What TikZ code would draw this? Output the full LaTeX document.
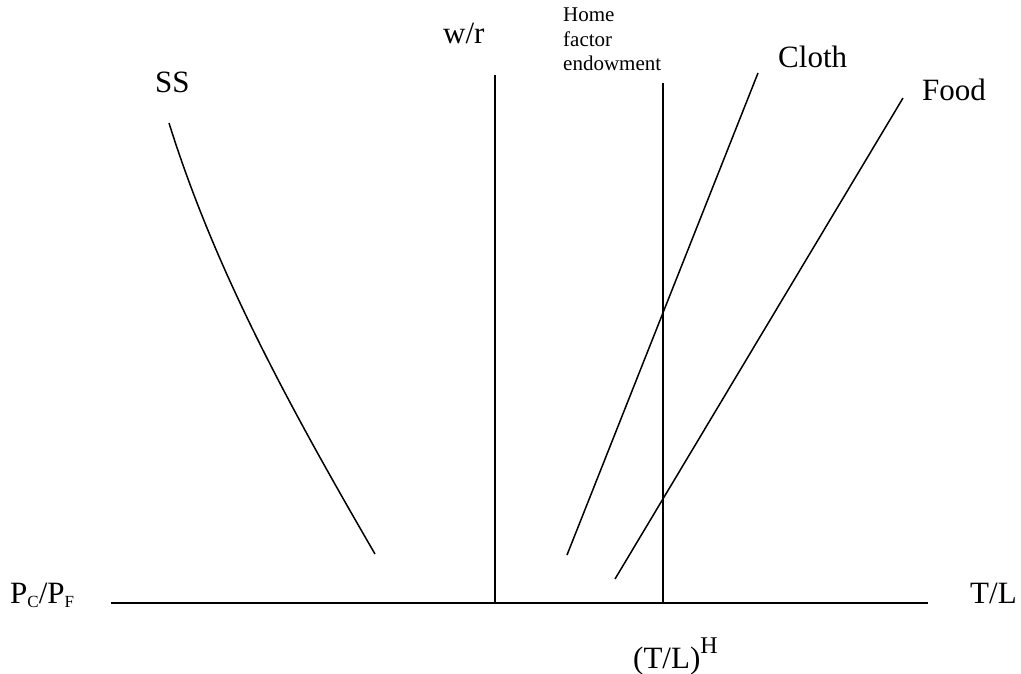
\documentclass[tikz,border=0pt]{standalone}
\usepackage{fontspec}
\setmainfont{Liberation Serif}
\usetikzlibrary{positioning}

\begin{document}
\begin{tikzpicture}[
    x=1pt, y=-1pt,
    every node/.style={inner sep=0pt, anchor=base west},
    lbl/.style={font=\fontsize{31}{31}\selectfont},
    small/.style={font=\fontsize{21}{24.5}\selectfont, align=left, anchor=north west},
    axis/.style={line width=2pt},
    curve/.style={line width=1.5pt}
]
\useasboundingbox (0,0) rectangle (1021,673);
% Axes
\coordinate (xl) at (111,603);
\coordinate (xr) at (928,603);
\coordinate (wr) at (495,75);
\coordinate (wr0) at (495,603);
\coordinate (home) at (663,83);
\coordinate (home0) at (663,603);
\draw[axis] (xl) -- (xr);
\draw[curve] (wr) -- (wr0);
\draw[curve] (home) -- (home0);
% Labels
\node[lbl] (pc) at (10,603) {P{\fontsize{17}{17}\selectfont\raisebox{-4.5pt}{C}}/P{\fontsize{17}{17}\selectfont\raisebox{-4.5pt}{F}}};
\node[lbl] (tl) at (970,603) {T/L};
\node[lbl] (wrl) at (443,43) {w/r};
\node[small] (hfe) at (563,8) {Home\\factor\\endowment};
\node[lbl] (tlh) at (633,668) {(T/L){\fontsize{24}{24}\selectfont\raisebox{15pt}{H}}};
\node[lbl] (ssl) at (155,92) {SS};
\node[lbl] (cl) at (778,67) {Cloth};
\node[lbl] (fl) at (922,100) {Food};
% Curves
\coordinate (c1) at (567,555);
\coordinate (c2) at (758,73);
\coordinate (f1) at (615,579);
\coordinate (f2) at (903,98);
\coordinate (s1) at (169,123);
\coordinate (s2) at (375,554);
\draw[curve] (c1) -- (c2);
\draw[curve] (f1) -- (f2);
\draw[curve] (s1) .. controls (215,270) and (288,404) .. (s2);
\end{tikzpicture}
\end{document}
